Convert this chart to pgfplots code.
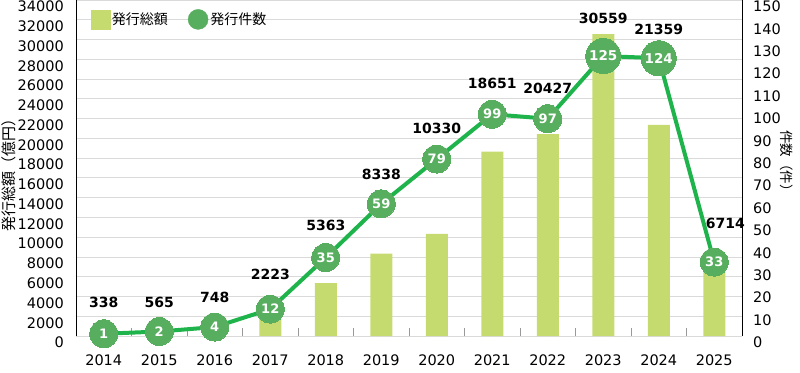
\documentclass[border=0pt]{standalone}
\usepackage{pgfplots}
\pgfplotsset{compat=1.18}
\usepackage{fontspec}
\setmainfont{Liberation Sans}
\newfontfamily\cjk{Noto Sans CJK JP}
\newfontfamily\dejavu{DejaVu Sans}
\definecolor{barc}{RGB}{197,219,112}
\definecolor{linec}{RGB}{30,180,75}
\definecolor{markc}{RGB}{88,174,95}
\definecolor{gridc}{RGB}{218,218,218}
\begin{document}
\begin{tikzpicture}
\useasboundingbox (-76pt,-36pt) rectangle (724pt,336pt);
\begin{axis}[
  at={(0,0)}, anchor=south west,
  scale only axis, width=666pt, height=336pt,
  xmin=-0.5, xmax=11.5, ymin=0, ymax=34000,
  clip=false,
  axis y line*=left, axis x line*=bottom,
  x axis line style={draw=gridc, -},
  y axis line style={black, line width=0.8pt, -},
  ytick={0,2000,...,34000},
  ymajorgrids, grid style={gridc, line width=0.8pt},
  ytick style={draw=none},
  xtick={0,...,11},
  xticklabels={2014,2015,2016,2017,2018,2019,2020,2021,2022,2023,2024,2025},
  major x tick style={draw=none},
  extra x ticks={0.5,1.5,...,10.5},
  extra x tick labels={},
  extra x tick style={major tick length=8pt, tick align=inside, major x tick style={draw=gray!80, line width=0.8pt}, xmajorgrids=false},
  /pgf/number format/assume math mode=true,
  /pgf/number format/.cd, fixed, 1000 sep={}, /pgfplots/.cd,
  scaled y ticks=false,
  yticklabel style={font=\dejavu\fontsize{14.5}{14.5}\selectfont, inner sep=0pt, anchor=east, xshift=-12pt, yshift=-6.5pt},
  xticklabel style={font=\dejavu\fontsize{14.5}{14.5}\selectfont, inner sep=0pt, anchor=north, yshift=-19pt},
  bar width=22pt,
]
\addplot[ybar, fill=barc, draw=none, bar shift=0pt] coordinates {
(0,338) (1,565) (2,748) (3,2223) (4,5363) (5,8338) (6,10330) (7,18651) (8,20427) (9,30559) (10,21359) (11,6714)};
\addplot[draw=none, mark=none, nodes near coords, point meta=explicit symbolic,
  nodes near coords style={font=\dejavu\bfseries\fontsize{14}{14}\selectfont, anchor=center, text=black, inner sep=0pt}]
  table[x=x, y=y, meta=l] {
x y l
0 3441 338
1 3441 565
2 3947 748
3 6275 2223
4 11235 5363
5 16397 8338
6 21053 10330
7 25607 18651
8 25101 20427
9 32186 30559
10 31000 21359
11.2 11437 6714
};
\end{axis}
\begin{axis}[
  at={(0,0)}, anchor=south west,
  scale only axis, width=666pt, height=336pt,
  xmin=-0.5, xmax=11.5, ymin=0, ymax=150,
  clip=false,
  axis y line*=right, axis x line=none,
  y axis line style={black, line width=0.8pt, -},
  ytick={0,10,...,150},
  ytick style={draw=none},
  /pgf/number format/assume math mode=true,
  yticklabel style={font=\dejavu\fontsize{14.5}{14.5}\selectfont, inner sep=0pt, anchor=west, xshift=11pt, yshift=-6.5pt},
  legend style={at={(0.017,1)}, anchor=north west, yshift=-7pt, draw=none, fill=none,
    font=\cjk\fontsize{14}{14}\selectfont, /tikz/every even column/.append style={column sep=18pt}},
  legend columns=2,
  legend cell align=left,
]
\addlegendimage{legend image code/.code={\fill[barc] (0pt,-9.5pt) rectangle (19pt,9.5pt);}}
\addlegendentry{発行総額}
\addlegendimage{legend image code/.code={\fill[markc] (9.5pt,0pt) circle (10pt);}}
\addlegendentry{発行件数}
\addplot[linec, line width=4pt, forget plot] coordinates {
(0,1) (1,2) (2,4) (3,12) (4,35) (5,59) (6,79) (7,99) (8,97) (9,125) (10,124) (11,33)};
\addplot[markc, only marks, mark=*, mark size=14pt, mark options={markc, fill=markc, line width=0pt}, forget plot,
  nodes near coords, point meta=explicit symbolic,
  nodes near coords style={font=\dejavu\bfseries\fontsize{13}{13}\selectfont, anchor=center, text=white, inner sep=0pt}]
  table[x=x, y=y, meta=l] {
x y l
0 1 1
1 2 2
2 4 4
3 12 12
4 35 35
5 59 59
6 79 79
7 99 99
8 97 97
11 33 33
};
\addplot[markc, only marks, mark=*, mark size=17.5pt, mark options={markc, fill=markc, line width=0pt}, forget plot,
  nodes near coords, point meta=explicit symbolic,
  nodes near coords style={font=\dejavu\bfseries\fontsize{13.5}{13.5}\selectfont, anchor=center, text=white, inner sep=0pt}]
  table[x=x, y=y, meta=l] {
x y l
9 125 125
10 124 124
};
\end{axis}
\node[rotate=90, font=\cjk\fontsize{15}{15}\selectfont] at (-67pt,164pt) {発行総額（億円）};
\node[rotate=-90, font=\cjk\fontsize{13.5}{13.5}\selectfont] at (711pt,172pt) {件数（件）};
\end{tikzpicture}
\end{document}
